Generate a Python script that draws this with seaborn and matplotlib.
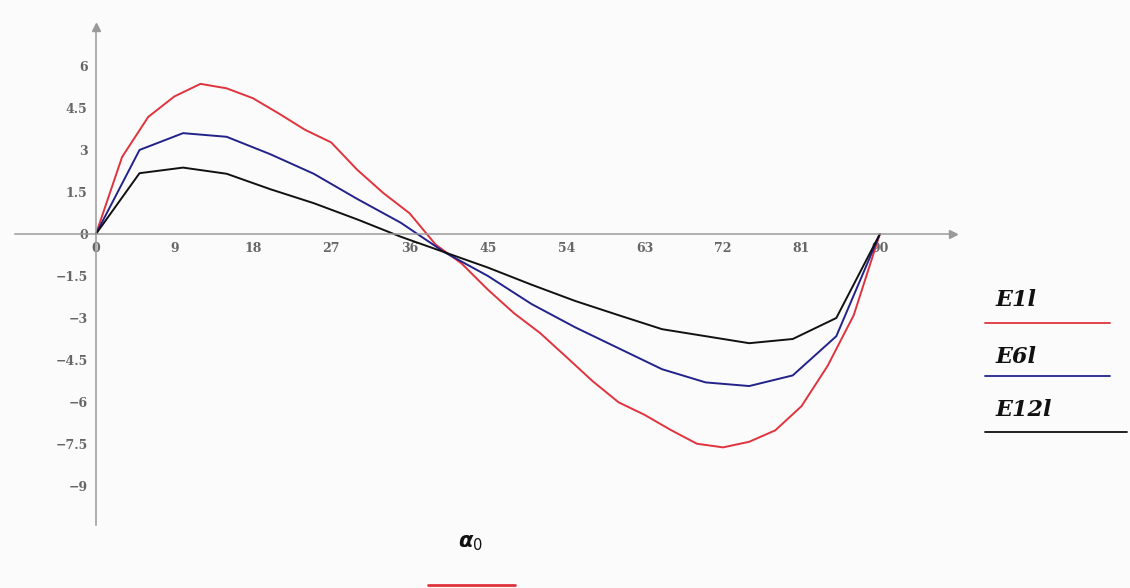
import numpy as np
import pandas as pd
import seaborn as sns
import matplotlib.pyplot as plt
from matplotlib.lines import Line2D

# angle values (degrees) and the three curves
alpha_fine = np.arange(0, 91, 3)
E1l = [0, 2.75, 4.18, 4.91, 5.36, 5.2, 4.85, 4.3, 3.72, 3.27, 2.29,
       1.46, 0.74, -0.38, -1.06, -1.99, -2.83, -3.54, -4.39, -5.25, -6.01,
       -6.46, -7.0, -7.49, -7.62, -7.42, -7.01, -6.15, -4.71, -2.9, 0]

alpha_coarse = np.arange(0, 91, 5)
E6l = [0, 3.0, 3.6, 3.47, 2.85, 2.15, 1.25, 0.4, -0.65, -1.5, -2.5,
       -3.33, -4.08, -4.83, -5.3, -5.43, -5.05, -3.65, 0]
E12l = [0, 2.17, 2.37, 2.15, 1.6, 1.1, 0.52, -0.1, -0.65, -1.2, -1.81,
        -2.39, -2.9, -3.4, -3.65, -3.9, -3.75, -3.0, 0]

x_ticks = [0, 9, 18, 27, 36, 45, 54, 63, 72, 81, 90]
y_ticks = [6, 4.5, 3, 1.5, 0, -1.5, -3, -4.5, -6, -7.5, -9]
y_labels = ['6', '4.5', '3', '1.5', '0', '\u22121.5', '\u22123', '\u22124.5',
            '\u22126', '\u22127.5', '\u22129']

series_names = ['E1l', 'E6l', 'E12l']
colors = {'E1l': '#e0333d', 'E6l': '#22228a', 'E12l': '#111111'}

df = pd.concat([
    pd.DataFrame({'alpha': alpha_fine, 'E': E1l, 'series': 'E1l'}),
    pd.DataFrame({'alpha': alpha_coarse, 'E': E6l, 'series': 'E6l'}),
    pd.DataFrame({'alpha': alpha_coarse, 'E': E12l, 'series': 'E12l'}),
])

sns.set_theme(style='white')
plt.rcParams['font.family'] = ['DejaVu Serif']

fig = plt.figure(figsize=(11.3, 5.88), dpi=100)
fig.patch.set_facecolor('#fafbfa')
ax = fig.add_axes([10 / 1130, 1 - 530 / 588, 950 / 1130, 510 / 588])
ax.set_facecolor('#fafbfa')

sns.lineplot(data=df, x='alpha', y='E', hue='series', hue_order=series_names,
             palette=colors, estimator=None, legend=False, linewidth=1.4, ax=ax)

ax.set_xlim(-9.87, 99.2)
ax.set_ylim(-10.57, 7.64)

# Mathcad-style crossed axes
axis_color = '#9a9a9a'
for side in ['top', 'right']:
    ax.spines[side].set_visible(False)
ax.spines['left'].set_position(('data', 0))
ax.spines['bottom'].set_position(('data', 0))
ax.spines['left'].set_bounds(-10.4, 7.3)
ax.spines['bottom'].set_bounds(-9.3, 98.2)
for side in ['left', 'bottom']:
    ax.spines[side].set_color(axis_color)
    ax.spines[side].set_linewidth(1.1)
ax.plot(98.4, 0, marker='>', color=axis_color, ms=6, clip_on=False)
ax.plot(0, 7.4, marker='^', color=axis_color, ms=6, clip_on=False)

ax.set_xticks(x_ticks)
ax.set_xticklabels([str(t) for t in x_ticks])
ax.set_yticks(y_ticks)
ax.set_yticklabels(y_labels)
ax.tick_params(direction='inout', length=6, width=0.8, color=axis_color,
               labelsize=9, labelcolor='#666666', pad=3)
for lbl in ax.get_xticklabels() + ax.get_yticklabels():
    lbl.set_fontweight('bold')
ax.set_xlabel('')
ax.set_ylabel('')

# legend as in the original: label above a coloured line
legend_items = [('E1l', 300, 323, 1110), ('E6l', 357, 376, 1110),
                ('E12l', 410, 432, 1127)]
for name, ty, ly, x_end in legend_items:
    fig.text(996 / 1130, 1 - ty / 588, name, fontsize=16, fontweight='bold',
             fontstyle='italic', va='center', ha='left', color='#111111')
    fig.add_artist(Line2D([985 / 1130, x_end / 1130], [1 - ly / 588] * 2,
                          color=colors[name], lw=1.3))

# x-axis trace label
fig.text(470 / 1130, 1 - 543 / 588, r'$\boldsymbol{\alpha}_0$', fontsize=15,
         ha='center', va='center', color='#111111')
fig.add_artist(Line2D([428 / 1130, 515 / 1130], [1 - 585 / 588] * 2,
                      color=colors['E1l'], lw=2))

plt.savefig('out.png', dpi=100, facecolor=fig.get_facecolor())
